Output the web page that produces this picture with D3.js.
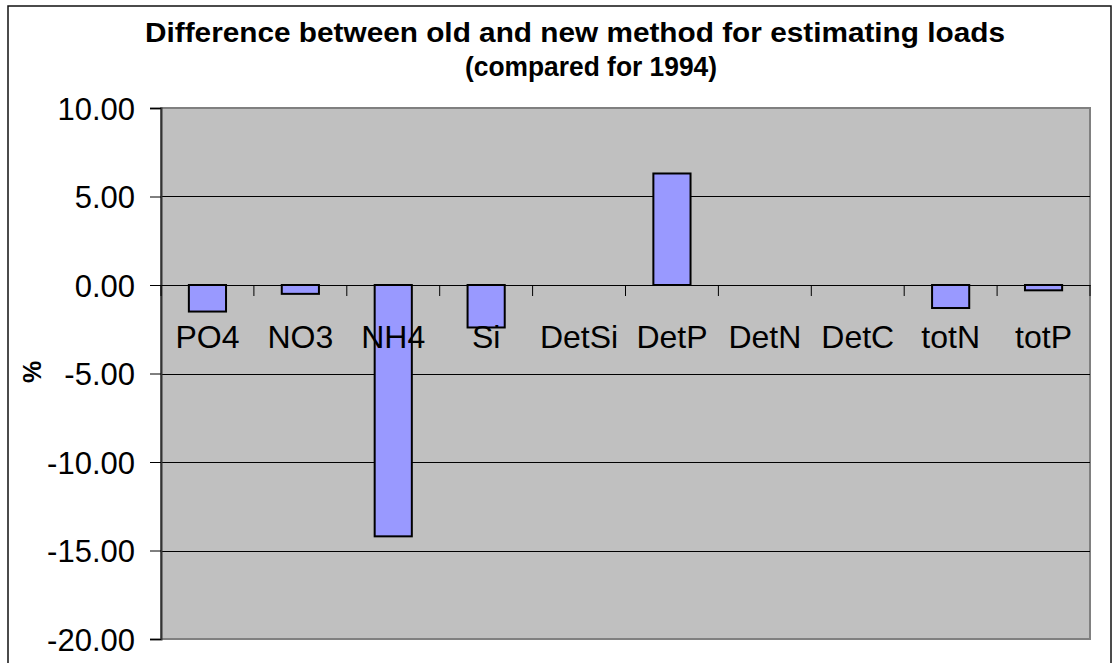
<!DOCTYPE html>
<html><head><meta charset="utf-8">
<script src="https://cdn.jsdelivr.net/npm/d3@7"></script>
<style>
html,body{margin:0;padding:0;background:#fff;}
svg{display:block;font-family:"Liberation Sans",Arial,sans-serif;}
</style></head>
<body>
<svg id="chart" width="1113" height="663"></svg>
<script>
const categories = ["PO4","NO3","NH4","Si","DetSi","DetP","DetN","DetC","totN","totP"];
const values = [-1.5,-0.5,-14.2,-2.4,0,6.3,0,0,-1.3,-0.3];
const yTicks = [10,5,0,-5,-10,-15,-20];
const titleLines = ["Difference between old and new method for estimating loads","(compared for 1994)"];
const yLabel = "%";

const svg = d3.select("#chart");
const plot = {left:161, right:1090, top:108, bottom:639};

// outer frame
svg.append("rect").attr("x",8).attr("y",6).attr("width",1103).attr("height",700)
  .attr("fill","#fff").attr("stroke","#111").attr("stroke-width",1.5);

const x = d3.scaleBand().domain(categories).range([plot.left, plot.right]).padding(0);
const y = d3.scaleLinear().domain([-20,10]).range([plot.bottom, plot.top]);

// plot area
svg.append("rect").attr("x",plot.left).attr("y",plot.top)
  .attr("width",plot.right-plot.left).attr("height",plot.bottom-plot.top)
  .attr("fill","#c0c0c0").attr("stroke","#808080").attr("stroke-width",2);

// gridlines
svg.append("g").selectAll("line").data(yTicks.filter(t=>t!==0 && t!==-20 && t!==10)).join("line")
  .attr("x1",plot.left).attr("x2",plot.right)
  .attr("y1",d=>Math.round(y(d))+0.5).attr("y2",d=>Math.round(y(d))+0.5)
  .attr("stroke","#000").attr("stroke-width",1);

// y axis
const fmt = d3.format(".2f");
const yAxis = d3.axisLeft(y).tickValues(yTicks).tickSize(11).tickPadding(15)
  .tickFormat(d=>fmt(d).replace("\u2212","-"));
const gy = svg.append("g").attr("transform",`translate(${plot.left},0)`).call(yAxis);
gy.select(".domain").attr("stroke","#333").attr("stroke-width",2);
gy.selectAll(".tick line").attr("stroke","#000");
gy.selectAll(".tick text").attr("font-size",31).attr("fill","#000")
  .attr("font-family","'Liberation Sans',Arial,sans-serif").attr("dy","0.36em");

// bars
const barW = x.bandwidth()/2.5;
svg.append("g").selectAll("rect").data(categories.map((c,i)=>({c,v:values[i]})).filter(d=>d.v!==0)).join("rect")
  .attr("x",d=>x(d.c)+x.bandwidth()/2-barW/2)
  .attr("width",barW)
  .attr("y",d=>y(Math.max(0,d.v)))
  .attr("height",d=>Math.abs(y(d.v)-y(0)))
  .attr("fill","#9999ff").attr("stroke","#000").attr("stroke-width",2);

// x axis at zero
const xAxis = d3.axisBottom(x).tickSize(0).tickFormat("");
const gx = svg.append("g").attr("transform",`translate(0,${y(0)})`).call(xAxis);
gx.select(".domain").attr("stroke","#000").attr("stroke-width",1.2);
const bounds = categories.map(c=>x(c)).concat([plot.right]);
svg.append("g").selectAll("line").data(bounds).join("line")
  .attr("x1",d=>d).attr("x2",d=>d).attr("y1",y(0)).attr("y2",y(0)+11)
  .attr("stroke","#000").attr("stroke-width",1);

// x labels
svg.append("g").selectAll("text").data(categories).join("text")
  .attr("x",d=>x(d)+x.bandwidth()/2).attr("y",348)
  .attr("text-anchor","middle").attr("font-size",32).attr("fill","#000")
  .text(d=>d);

// title
svg.append("text").attr("x",575).attr("y",42).attr("text-anchor","middle")
  .attr("font-size",27).attr("font-weight","bold").attr("textLength",860).attr("lengthAdjust","spacingAndGlyphs")
  .text(titleLines[0]);
svg.append("text").attr("x",591).attr("y",76).attr("text-anchor","middle")
  .attr("font-size",27).attr("font-weight","bold").attr("textLength",252).attr("lengthAdjust","spacingAndGlyphs")
  .text(titleLines[1]);

// y label
svg.append("text").attr("transform","translate(41,372) rotate(-90)")
  .attr("text-anchor","middle").attr("font-size",25).attr("font-weight","bold")
  .text(yLabel);
</script>
</body></html>
